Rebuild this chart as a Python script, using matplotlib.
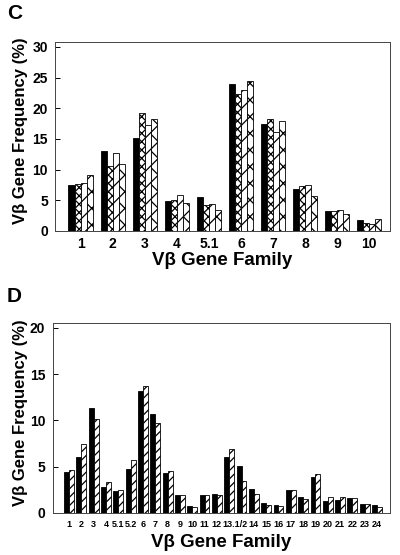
import matplotlib
matplotlib.use("Agg")
import matplotlib.pyplot as plt
import numpy as np

plt.rcParams['font.family'] = ['Liberation Sans', 'DejaVu Sans']
plt.rcParams['font.weight'] = 'bold'
plt.rcParams['hatch.linewidth'] = 0.9

# panel C data: 4 series per gene family
c_families = ['1', '2', '3', '4', '5.1', '6', '7', '8', '9', '10']
c_black = [7.5, 13.1, 15.1, 4.9, 5.5, 24.0, 17.4, 6.9, 3.2, 1.8]
c_cross = [7.7, 10.6, 19.3, 5.0, 4.3, 22.4, 18.2, 7.4, 3.2, 1.3]
c_diag = [7.9, 12.7, 17.2, 5.9, 4.4, 23.0, 16.1, 7.5, 3.4, 1.1]
c_bigx = [9.1, 10.9, 18.3, 4.6, 3.4, 24.5, 17.9, 5.7, 2.7, 1.9]

# panel D data: 2 series per gene family
d_families = ['1', '2', '3', '4', '5.1', '5.2', '6', '7', '8', '9', '10', '11', '12',
              '13.1', '13.2', '14', '15', '16', '17', '18', '19', '20', '21', '22', '23', '24']
d_black = [4.4, 6.1, 11.3, 2.8, 2.4, 4.8, 13.2, 10.7, 4.3, 1.9, 0.8, 1.9, 2.1,
           6.1, 5.1, 2.6, 1.1, 0.9, 2.5, 1.7, 3.9, 1.3, 1.4, 1.6, 1.0, 0.9]
d_hatch = [4.6, 7.5, 10.2, 3.3, 2.5, 5.7, 13.7, 9.7, 4.5, 1.9, 0.6, 1.9, 1.9,
           6.9, 3.5, 2.0, 0.85, 0.8, 2.5, 1.5, 4.2, 1.7, 1.7, 1.6, 1.0, 0.7]
d_ticklabels = ['1', '2', '3', '4', '5.1', '5.2', '6', '7', '8', '9', '10', '11', '12',
                '13.1/2', '14', '15', '16', '17', '18', '19', '20', '21', '22', '23', '24']

fig = plt.figure(figsize=(4.0, 5.55), dpi=100)

# ---- panel C ----
axc = fig.add_axes([0.1375, 0.5838, 0.8375, 0.3405])
x = np.arange(len(c_families))
w = 0.19
series = [(c_black, 'black', None), (c_cross, 'white', 'xxxx'),
          (c_diag, 'white', '//'), (c_bigx, 'white', 'xx')]
for i, (vals, fc, h) in enumerate(series):
    axc.bar(x + (i - 1.5) * w, vals, w, color=fc, edgecolor='black',
            linewidth=0.6, hatch=h)
axc.set_xlim(-0.8, 9.65)
axc.set_ylim(0, 30.8)
axc.set_yticks([0, 5, 10, 15, 20, 25, 30])
axc.set_xticks(x)
axc.set_xticklabels(c_families)
axc.tick_params(axis='x', length=0, labelsize=10, pad=4)
axc.tick_params(axis='y', direction='in', length=3.5, width=0.7, labelsize=10, pad=5)
axc.set_ylabel('Vβ Gene Frequency (%)', fontsize=12, fontweight='bold')
axc.yaxis.set_label_coords(-0.082, 0.53)
axc.set_xlabel('Vβ Gene Family', fontsize=13.5, fontweight='bold')
axc.xaxis.set_label_coords(0.5, -0.11)
for s in axc.spines.values():
    s.set_linewidth(0.7)
    s.set_color('#444444')
fig.text(0.017, 0.993, 'C', fontsize=15, fontweight='bold', va='top')

# ---- panel D ----
axd = fig.add_axes([0.1325, 0.0757, 0.8425, 0.342])
xd = np.arange(len(d_families))
wd = 0.4
axd.bar(xd - wd / 2, d_black, wd, color='black', edgecolor='black', linewidth=0.6)
axd.bar(xd + wd / 2, d_hatch, wd, color='white', edgecolor='black', linewidth=0.6,
        hatch='////')
tick_pos = list(xd[:13]) + [(xd[13] + xd[14]) / 2] + list(xd[15:])
axd.set_xticks(tick_pos)
axd.set_xticklabels(d_ticklabels)
axd.set_xlim(-1.3, 26.05)
axd.set_ylim(0, 20.5)
axd.set_yticks([0, 5, 10, 15, 20])
axd.tick_params(axis='y', direction='in', length=3.5, width=0.7, labelsize=10, pad=5.5)
axd.tick_params(axis='x', length=0, labelsize=6.5, pad=5)
axd.set_ylabel('Vβ Gene Frequency (%)', fontsize=12, fontweight='bold')
axd.yaxis.set_label_coords(-0.075, 0.53)
axd.set_xlabel('Vβ Gene Family', fontsize=13.5, fontweight='bold')
axd.xaxis.set_label_coords(0.5, -0.11)
for s in axd.spines.values():
    s.set_linewidth(0.7)
    s.set_color('#444444')
fig.text(0.017, 0.483, 'D', fontsize=15, fontweight='bold', va='top')

fig.savefig('out.png', dpi=100)
